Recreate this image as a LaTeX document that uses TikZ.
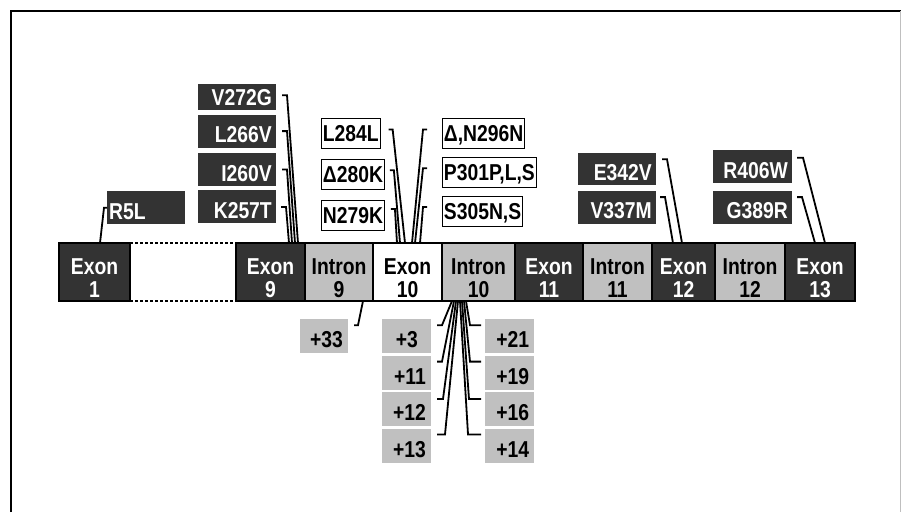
\documentclass[tikz,border=0pt]{standalone}
\usepackage{fontspec}
\setmainfont{Liberation Sans}[FakeStretch=0.84]
\usetikzlibrary{positioning}
\definecolor{exonfill}{HTML}{333333}
\definecolor{intronfill}{HTML}{C0C0C0}

\begin{document}
\begin{tikzpicture}[
  x=1pt, y=-1pt,
  font=\fontsize{23}{23}\selectfont\bfseries,
  seg/.style={draw, line width=2.5pt, minimum width=69pt, minimum height=58pt, inner sep=0pt, outer sep=0pt, align=center, text height=50pt, text depth=0pt},
  exon/.style={seg, fill=exonfill, text=white},
  intron/.style={seg, fill=intronfill},
  darklab/.style={fill=exonfill, text=white, minimum height=33pt, text height=23pt, text depth=0pt, inner ysep=0pt, inner xsep=4pt, text width=70pt, align=right},
  whitelab/.style={draw, line width=0.8pt, fill=white, minimum height=30pt, text height=17pt, text depth=0pt, inner xsep=1.5pt, inner ysep=0pt},
  graylab/.style={fill=intronfill, minimum height=34pt, text height=23pt, text depth=0pt, inner ysep=0pt, inner xsep=5pt, text width=39pt, align=right},
  lead/.style={line width=1.8pt},
  dots/.style={line width=2.5pt, dash pattern=on 3pt off 2pt},
]
\useasboundingbox (0,0) rectangle (901,512);
\draw[line width=2.5pt] (11,512) -- (11,11) -- (901,11);
\draw[gray!50, line width=1pt] (900,11) -- (900,512);

% gene bar
\node[exon, minimum width=71pt] (ex1) at (94.5,272) {Exon\\1};
\node[exon, anchor=west] (ex9) at (236,272) {Exon\\9};
\node[intron, minimum width=68pt, right=0pt of ex9] (in9) {Intron\\9};
\node[seg, fill=white, right=0pt of in9] (ex10) {Exon\\10};
\node[intron, minimum width=73pt, right=0pt of ex10] (in10) {Intron\\10};
\node[exon, minimum width=68pt, right=0pt of in10] (ex11) {Exon\\11};
\node[intron, right=0pt of ex11] (in11) {Intron\\11};
\node[exon, minimum width=63pt, right=0pt of in11] (ex12) {Exon\\12};
\node[intron, minimum width=70pt, right=0pt of ex12] (in12) {Intron\\12};
\node[exon, minimum width=70pt, right=0pt of in12] (ex13) {Exon\\13};
\draw[dots] (ex1.north east) -- (ex9.north west);
\draw[dots] (ex1.south east) -- (ex9.south west);

% exon 1 and exon 9
\node[darklab, text width=74pt, inner xsep=2pt, align=left, anchor=north west] (r5l) at (107,191) {R5L};
\node[darklab, minimum height=26pt, text height=16pt, anchor=north east] (v272) at (276,84) {V272G};
\node[darklab, below=4pt of v272] (l266) {L266V};
\node[darklab, below=5pt of l266] (i260) {I260V};
\node[darklab, below=4pt of i260] (k257) {K257T};
\draw[lead] (r5l.west) -- ++(-3,0) -- ([xshift=41pt]ex1.north west);
\draw[lead] ([xshift=6pt,yshift=2pt]v272.east) -- ++(5,0) -- ([xshift=62pt]ex9.north west);
\draw[lead] ([xshift=6pt]l266.east) -- ++(5,0) -- ([xshift=59pt]ex9.north west);
\draw[lead] ([xshift=6pt]i260.east) -- ++(5,0) -- ([xshift=56pt]ex9.north west);
\draw[lead] ([xshift=5pt]k257.east) -- ++(5,0) -- ([xshift=53pt]ex9.north west);

% exon 10
\node[whitelab, anchor=north west] (l284) at (321,118) {L284L};
\node[whitelab, below=10pt of l284.south west, anchor=north west] (d280) {Δ280K};
\node[whitelab, below=10pt of d280.south west, anchor=north west] (n279) {N279K};
\node[whitelab, anchor=north west] (d296) at (442,118) {Δ,N296N};
\node[whitelab, below=8pt of d296.south west, anchor=north west] (p301) {P301P,L,S};
\node[whitelab, below=8pt of p301.south west, anchor=north west] (s305) {S305N,S};
\draw[lead] ([xshift=8pt,yshift=4pt]l284.east) -- ++(4,0) -- ([xshift=32pt]ex10.north west);
\draw[lead] ([xshift=5pt,yshift=4pt]d280.east) -- ++(4,0) -- ([xshift=27pt]ex10.north west);
\draw[lead] ([xshift=6pt,yshift=6pt]n279.east) -- ++(4,0) -- ([xshift=24pt]ex10.north west);
\draw[lead] ([xshift=-15pt,yshift=4pt]d296.west) -- ++(-4,0) -- ([xshift=39pt]ex10.north west);
\draw[lead] ([xshift=-15pt,yshift=4pt]p301.west) -- ++(-4,0) -- ([xshift=42pt]ex10.north west);
\draw[lead] ([xshift=-15pt,yshift=4pt]s305.west) -- ++(-4,0) -- ([xshift=47pt]ex10.north west);

% exon 12 and exon 13
\node[darklab, minimum height=32pt, text height=22pt, anchor=north east] (e342) at (656,153) {E342V};
\node[darklab, below=5pt of e342] (v337) {V337M};
\node[darklab, text width=71pt, anchor=north east] (r406) at (792,150) {R406W};
\node[darklab, text width=71pt, below=7pt of r406] (g389) {G389R};
\draw[lead] ([xshift=6pt,yshift=10pt]e342.east) -- ++(5,0) -- ([xshift=30pt]ex12.north west);
\draw[lead] ([xshift=4pt,yshift=10pt]v337.east) -- ++(5,0) -- ([xshift=21pt]ex12.north west);
\draw[lead] ([xshift=5pt,yshift=9pt]r406.east) -- ++(6,0) -- ([xshift=40pt]ex13.north west);
\draw[lead] ([xshift=5pt,yshift=10pt]g389.east) -- ++(5,0) -- ([xshift=30pt]ex13.north west);

% intron 9 and intron 10
\node[graylab, text width=38pt, anchor=north east] (p33) at (348,319) {+33};
\node[graylab, anchor=north east] (p3) at (431,319) {+3\rule{8pt}{0pt}};
\node[graylab, below=2pt of p3] (p11) {+11};
\node[graylab, below=2pt of p11] (p12) {+12};
\node[graylab, below=3pt of p12] (p13) {+13};
\node[graylab, anchor=north west] (p21) at (485,319) {+21};
\node[graylab, below=2pt of p21] (p19) {+19};
\node[graylab, below=2pt of p19] (p16) {+16};
\node[graylab, below=3pt of p16] (p14) {+14};
\draw[lead] ([xshift=6pt,yshift=11pt]p33.east) -- ++(4,0) -- ([xshift=58pt]in9.south west);
\draw[lead] ([xshift=6pt,yshift=11pt]p3.east) -- ++(5,0) -- ([xshift=10pt]in10.south west);
\draw[lead] ([xshift=6pt,yshift=11pt]p11.east) -- ++(5,0) -- ([xshift=12pt]in10.south west);
\draw[lead] ([xshift=6pt,yshift=10pt]p12.east) -- ++(6,0) -- ([xshift=14pt]in10.south west);
\draw[lead] ([xshift=6pt,yshift=12pt]p13.east) -- ++(8,0) -- ([xshift=16pt]in10.south west);
\draw[lead] ([xshift=-4pt,yshift=11pt]p21.west) -- ++(-11,0) -- ([xshift=24pt]in10.south west);
\draw[lead] ([xshift=-4pt,yshift=11pt]p19.west) -- ++(-11,0) -- ([xshift=22pt]in10.south west);
\draw[lead] ([xshift=-4pt,yshift=10pt]p16.west) -- ++(-12,0) -- ([xshift=20pt]in10.south west);
\draw[lead] ([xshift=-4pt,yshift=12pt]p14.west) -- ++(-13,0) -- ([xshift=18pt]in10.south west);
\end{tikzpicture}
\end{document}
